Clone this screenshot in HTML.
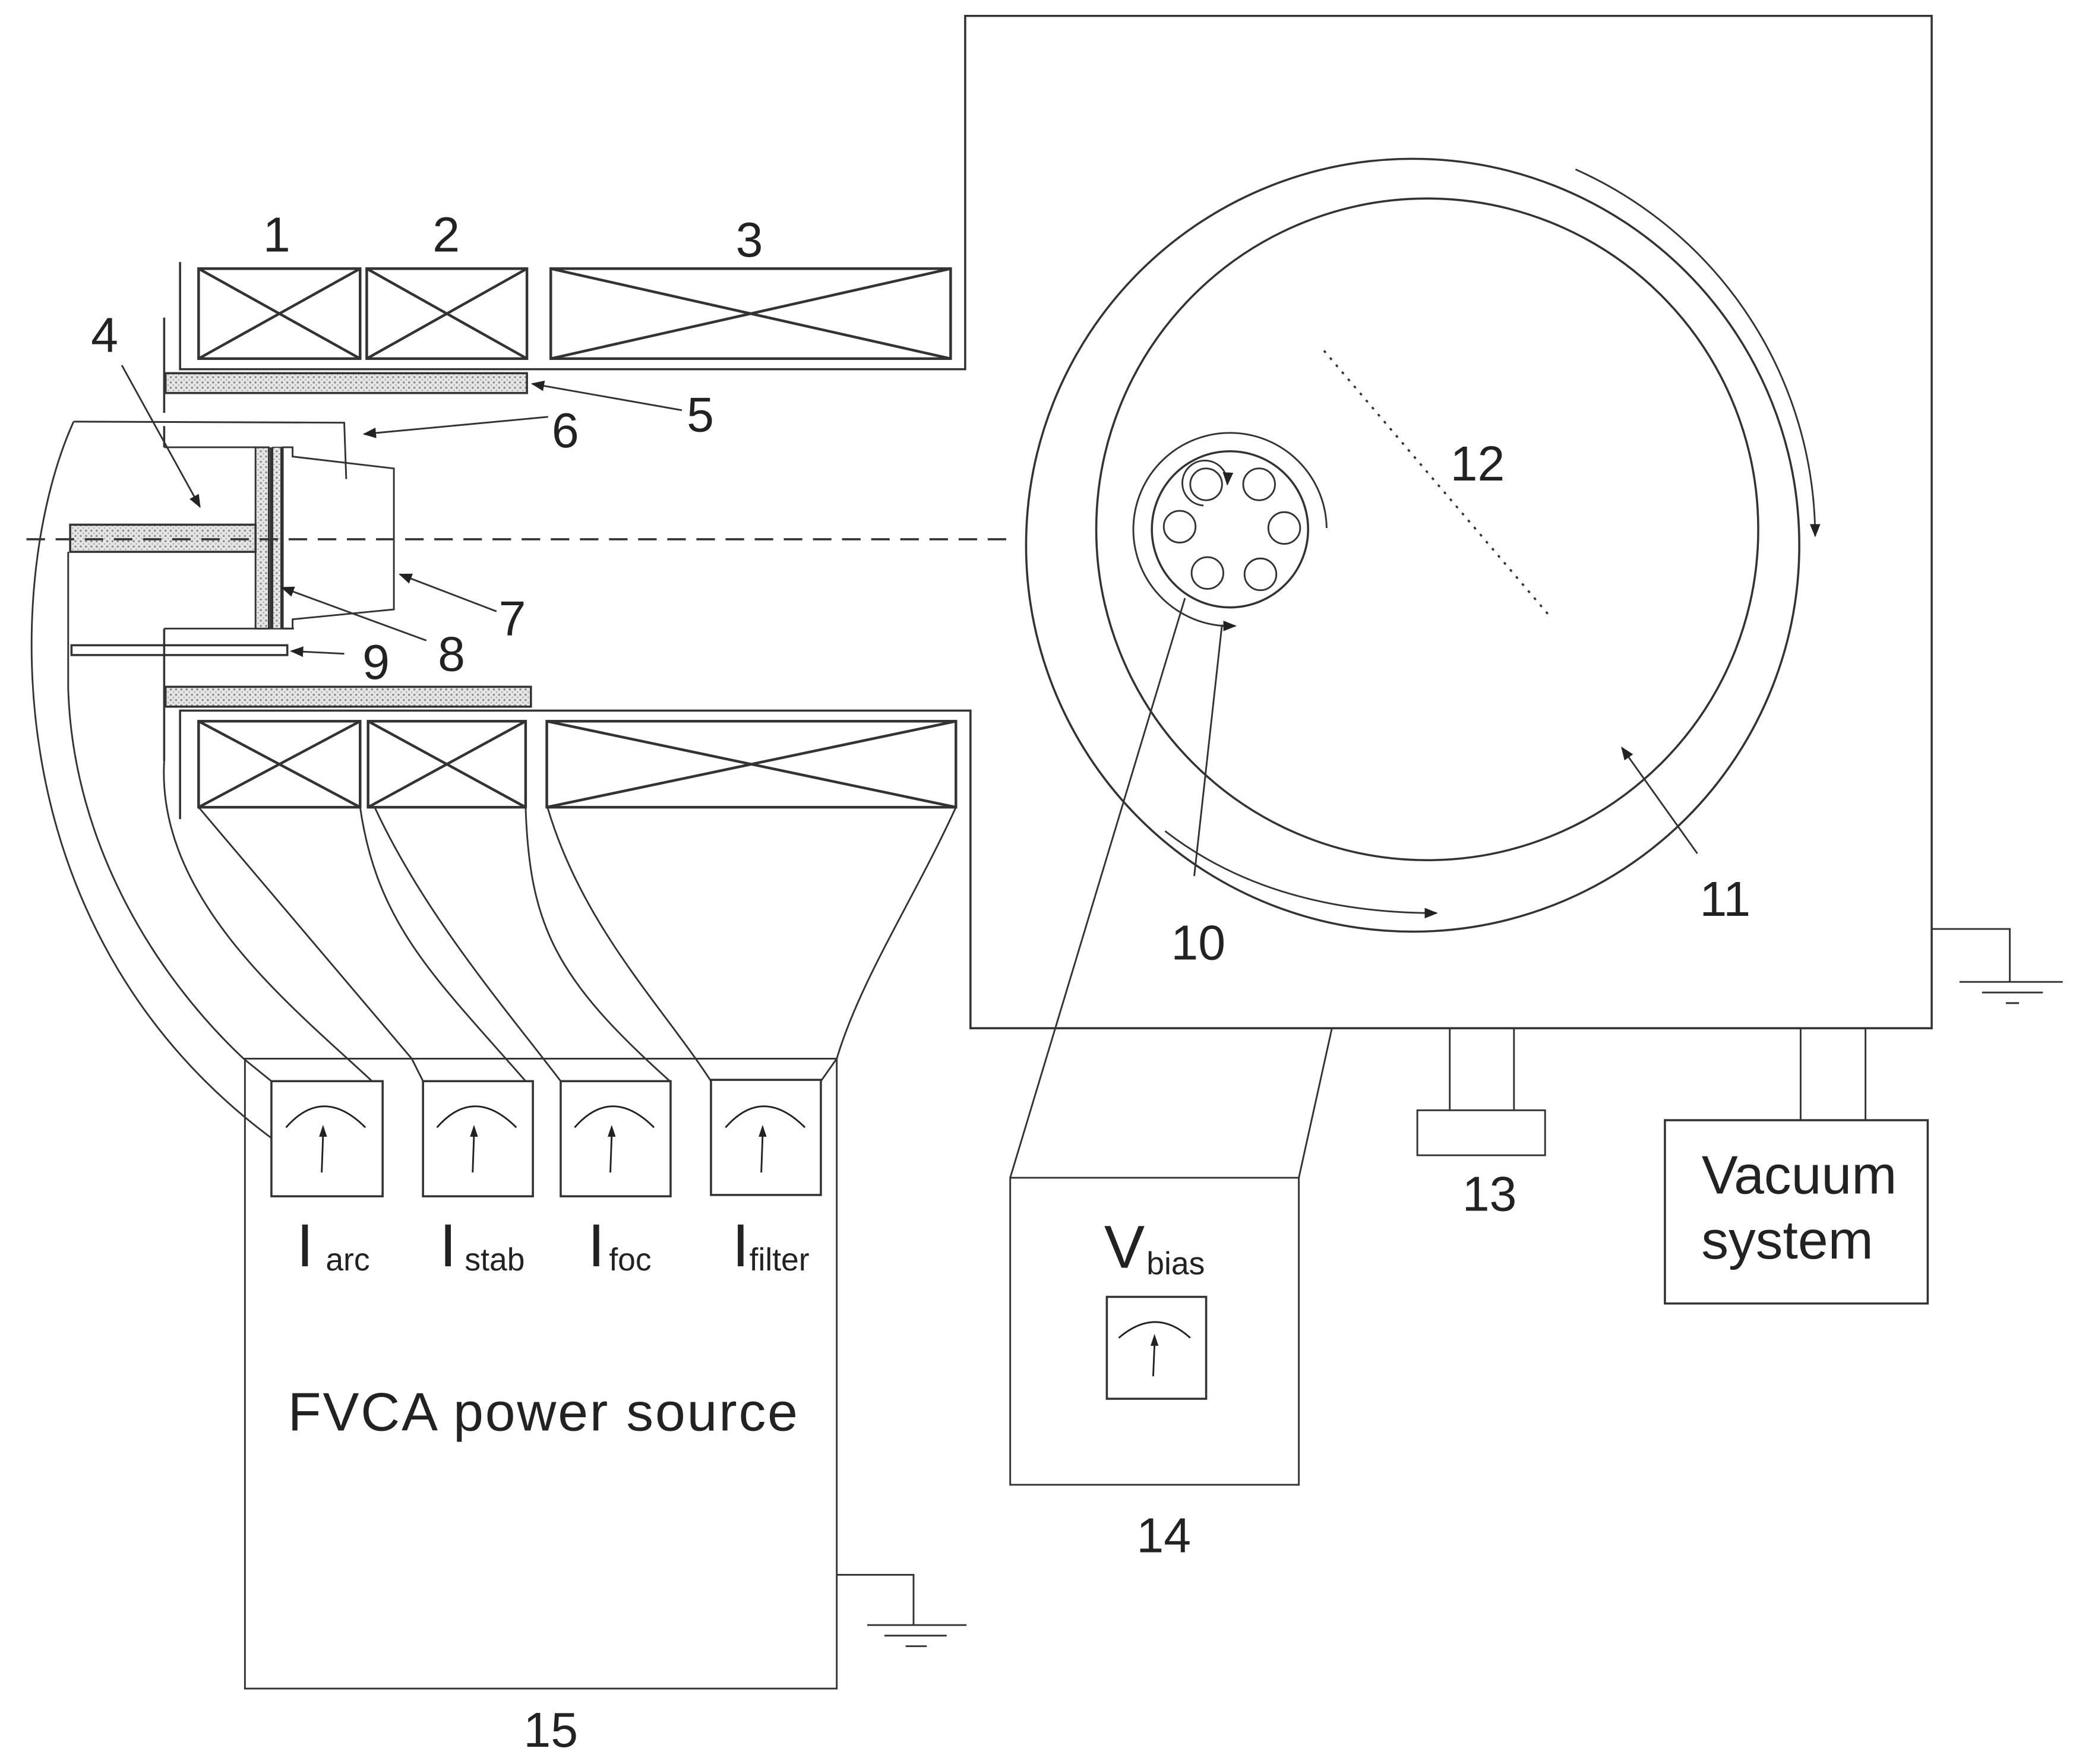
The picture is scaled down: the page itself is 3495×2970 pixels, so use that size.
<!DOCTYPE html>
<html><head><meta charset="utf-8"><style>
html,body{margin:0;padding:0;background:#fff;}
svg{display:block;}
text{font-family:"Liberation Sans",Arial,sans-serif;fill:#222;}
</style></head><body>
<svg width="3495" height="2970" viewBox="0 0 1568 1333" preserveAspectRatio="none" xmlns="http://www.w3.org/2000/svg">
<defs>
<pattern id="dots" width="4" height="4" patternUnits="userSpaceOnUse">
<rect width="4" height="4" fill="#e6e6e6"/><circle cx="1" cy="1" r="0.8" fill="#888"/><circle cx="3" cy="3" r="0.6" fill="#aaa"/>
</pattern>
<marker id="ah" markerWidth="10" markerHeight="8" refX="9" refY="4" orient="auto" markerUnits="userSpaceOnUse">
<path d="M0,0 L10,4 L0,8 Z" fill="#222"/></marker>
</defs>
<rect width="1568" height="1333" fill="#fff"/>
<g fill="none" stroke="#333" stroke-width="1.3">
<!-- chamber -->
<path d="M136,198 L136,279 L729,279 L729,12 L1459,12 L1459,777 L733,777 L733,537 L136,537 L136,619" stroke-width="1.6"/>
<!-- top coils -->
<g stroke-width="2">
<rect x="150" y="203" width="122" height="68"/><path d="M150,203 L272,271 M272,203 L150,271"/>
<rect x="277" y="203" width="121" height="68"/><path d="M277,203 L398,271 M398,203 L277,271"/>
<rect x="416" y="203" width="302" height="68"/><path d="M416,203 L718,271 M718,203 L416,271"/>
<rect x="150" y="545" width="122" height="65"/><path d="M150,545 L272,610 M272,545 L150,610"/>
<rect x="278" y="545" width="119" height="65"/><path d="M278,545 L397,610 M397,545 L278,610"/>
<rect x="413" y="545" width="309" height="65"/><path d="M413,545 L722,610 M722,545 L413,610"/>
</g>
<!-- vertical left lines -->
<path d="M124,240 L124,312 M124,322 L124,338 M124,475 L124,575" stroke-width="1.6"/>
<!-- shaded bars -->
<rect x="125" y="282" width="273" height="15" fill="url(#dots)" stroke-width="1.6"/>
<rect x="125" y="519" width="276" height="15" fill="url(#dots)" stroke-width="1.6"/>
<!-- anode 6 -->
<path d="M55.6,318.6 L260,319.4 L261.5,362"/>
<!-- cathode holder -->
<path d="M124,338 L194,338 M124,475 L222,475"/>
<rect x="193" y="338" width="10" height="137" fill="url(#dots)"/>
<path d="M205,338 L205,475" stroke-width="2.5"/>
<rect x="206" y="338" width="7" height="137" fill="url(#dots)" stroke-width="0.8"/>
<path d="M213,338 L213,475" stroke-width="2.5"/>
<path d="M213,338 L221,338 L221,345 L297.5,354 L297.5,460.5 L221,468 L221,475 L213,475"/>
<rect x="53" y="396.5" width="140" height="20.5" fill="url(#dots)" stroke-width="1.6"/>
<rect x="54" y="487.6" width="163" height="7.4" stroke-width="1.6"/>
<!-- dashed axis -->
<path d="M20,407.5 L760,407.5" stroke-dasharray="14,8" stroke-width="1.6"/>
<!-- wires -->
<path d="M55.6,318.6 C5,430 -10,700 205,860"/>
<path d="M51.5,417 L51.5,520 C55,640 120,740 184,800 L205,817"/>
<path d="M124,575 C118,680 220,760 281,817"/>
<path d="M150,610 L311,800 L319.5,817"/>
<path d="M272,610 C285,700 330,740 397,817"/>
<path d="M283,610 C320,690 380,760 423.5,817"/>
<path d="M397,610 C400,700 420,740 506,817"/>
<path d="M413.5,610 C440,700 500,760 537,817"/>
<path d="M722,610 C690,680 650,740 632,800 L620,817"/>
<!-- power source -->
<rect x="185" y="800" width="447" height="476"/>
<rect x="205" y="817" width="84" height="87" stroke-width="1.6"/>
<rect x="319.5" y="817" width="83" height="87" stroke-width="1.6"/>
<rect x="423.5" y="817" width="83" height="87" stroke-width="1.6"/>
<rect x="537" y="816" width="83" height="87" stroke-width="1.6"/>
<path d="M632,1190 L690,1190 L690,1228 M655,1228 L730,1228 M668,1236 L715,1236 M684,1244 L700,1244"/>
<!-- circles -->
<circle cx="1067" cy="412" r="292" stroke-width="1.6"/>
<circle cx="1078" cy="400" r="250" stroke-width="1.6"/>
<circle cx="929" cy="400" r="59" stroke-width="1.6"/>
<circle cx="911" cy="366" r="12"/><circle cx="951" cy="366" r="12"/>
<circle cx="891" cy="398" r="12"/><circle cx="970" cy="399" r="12"/>
<circle cx="912" cy="433" r="12"/><circle cx="952" cy="434" r="12"/>
<path d="M1002,399 A73,73 0 1,0 925,473 L933,473" marker-end="url(#ah)"/>
<path d="M909,382 A17,17 0 1,1 927,366" marker-end="url(#ah)"/>
<path d="M1190,128 A305,305 0 0,1 1371,405" marker-end="url(#ah)"/>
<path d="M880,628 Q960,690 1085,690" marker-end="url(#ah)"/>
<path d="M1000,265 L1170,465" stroke-dasharray="2,5" stroke-width="1.6"/>
<!-- leader arrows -->
<path d="M92,276 L151,383" marker-end="url(#ah)"/>
<path d="M515,310 L402,290" marker-end="url(#ah)"/>
<path d="M414,315 L275,328" marker-end="url(#ah)"/>
<path d="M375,462 L302,434" marker-end="url(#ah)"/>
<path d="M322,484 L213,444" marker-end="url(#ah)"/>
<path d="M260,494 L220,492" marker-end="url(#ah)"/>
<path d="M1282,645 L1225,565" marker-end="url(#ah)"/>
<path d="M902,662 L923,472"/>
<!-- bias -->
<path d="M763,890 L895,452 M981,890 L1006,777"/>
<rect x="763" y="890" width="218" height="232"/>
<rect x="836" y="980" width="75" height="77" stroke-width="1.6"/>
<!-- 13 -->
<path d="M1095,777 L1095,839 M1143.5,777 L1143.5,839"/>
<rect x="1070.5" y="839" width="96.5" height="34"/>
<path d="M1360,777 L1360,847 M1409,777 L1409,847"/>
<rect x="1257.5" y="846.5" width="198.5" height="138.5" stroke-width="1.6"/>
<path d="M1459,702 L1518,702 L1518,742 M1480,742 L1558,742 M1497,750 L1543,750 M1515,758 L1525,758"/>
</g>
<!-- meter needles -->
<g fill="none" stroke="#222" stroke-width="1.3">
<path d="M216,852 Q244,820 276,852 M243,886 L244,858"/>
<path d="M330,852 Q358,820 390,852 M357,886 L358,858"/>
<path d="M434,852 Q462,820 494,852 M461,886 L462,858"/>
<path d="M548,852 Q576,820 608,852 M575,886 L576,858"/>
<path d="M845,1011 Q873,987 899,1011 M871,1040 L872,1016"/>
</g>
<g fill="#222">
<path d="M241,859 L247,859 L244,850 Z"/><path d="M355,859 L361,859 L358,850 Z"/>
<path d="M459,859 L465,859 L462,850 Z"/><path d="M573,859 L579,859 L576,850 Z"/>
<path d="M869,1017 L875,1017 L872,1008 Z"/>
</g>
<!-- labels -->
<g font-size="37" text-anchor="middle">
<text x="209" y="190">1</text><text x="337" y="190">2</text><text x="566" y="194">3</text>
<text x="79" y="266">4</text><text x="529" y="326">5</text><text x="427" y="338">6</text>
<text x="387" y="480">7</text><text x="341" y="507">8</text><text x="284" y="513">9</text>
<text x="905" y="725">10</text><text x="1303" y="692">11</text><text x="1116" y="363">12</text>
<text x="1125" y="915">13</text><text x="879" y="1173">14</text><text x="416" y="1320">15</text>
</g>
<text x="410" y="1081" font-size="41" text-anchor="middle" textLength="385">FVCA power source</text>
<text x="1359" y="902" font-size="41" text-anchor="middle">Vacuum</text>
<text x="1350" y="951" font-size="41" text-anchor="middle">system</text>
<g font-size="46"><text x="224" y="957">I</text><text x="332" y="957">I</text><text x="444" y="957">I</text><text x="553" y="957">I</text><text x="834" y="958">V</text></g>
<g font-size="24"><text x="246" y="960">arc</text><text x="351" y="960">stab</text><text x="460" y="960">foc</text><text x="566" y="960">filter</text><text x="866" y="963">bias</text></g>
</svg>
</body></html>
